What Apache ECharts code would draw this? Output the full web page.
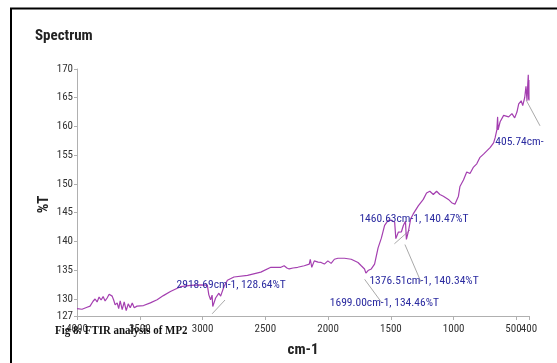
<!DOCTYPE html>
<html>
<head>
<meta charset="utf-8">
<script src="https://cdn.jsdelivr.net/npm/echarts@6/dist/echarts.min.js"></script>
<style>
html,body{margin:0;padding:0;background:#fff;}
#chart{width:557px;height:363px;}
</style>
</head>
<body>
<div id="chart"></div>
<script>
// Spectrum trace: wavenumber (cm-1) and transmittance (%T)
const wavenumbers = [4000,3960,3920,3896,3872,3856,3840,3824,3808,3792,3776,3760,3744,3736,3720,3708,3696,3680,3668,3656,3640,3624,3608,3592,3576,3560,3544,3522,3470,3416,3362,3312,3256,3176,3096,3016,2962,2950,2936,2924,2918.69,2896,2870,2856,2830,2802,2750,2642,2536,2456,2376,2350,2328,2310,2280,2242,2190,2150,2142,2130,2110,2080,2056,2030,2002,1976,1950,1922,1870,1816,1762,1736,1710,1699,1682,1668,1656,1630,1602,1576,1550,1522,1496,1470,1460.63,1440,1416,1400,1384,1376.51,1360,1342,1322,1282,1242,1216,1190,1162,1136,1110,1082,1042,1016,990,962,950,922,896,870,842,816,790,762,736,710,682,670,656,650,646,630,602,562,536,514,496,482,462,450,434,424,416,410,405.74,403,401,400];
const transmittance = [128.27,128.18,128.52,128.72,129.57,129.96,129.45,130.29,129.79,130.38,129.62,130.13,130.80,131.09,130.46,129.79,128.94,129.28,128.27,129.62,128.10,129.45,127.93,129.11,128.44,129.28,128.44,128.72,128.82,129.28,129.84,130.55,131.26,132.10,132.32,132.41,132.37,130.68,129.84,130.63,128.64,130.13,130.97,130.46,132.10,133.22,133.79,134.06,134.64,135.48,135.48,135.75,135.36,135.19,135.36,135.48,135.75,136.04,136.88,135.48,136.60,136.38,136.32,136.04,136.60,136.16,136.88,137.05,137.05,136.88,136.32,135.75,135.19,134.46,134.91,134.69,135.19,136.04,138.86,140.55,142.79,143.64,143.64,143.35,140.47,141.61,141.66,142.80,143.47,140.34,141.80,143.93,144.77,146.17,147.30,148.42,148.71,148.15,148.71,148.15,147.86,147.30,146.73,146.46,147.86,149.55,150.68,152.08,151.80,152.93,153.49,154.62,155.18,155.75,156.31,157.15,158.00,159.40,161.66,159.40,160.82,161.93,161.66,162.22,161.49,162.51,163.91,164.47,163.62,165.04,167.00,164.47,167.29,169.00,164.70,168.10,164.50];

const xTicks = [4000,3500,3000,2500,2000,1500,1000,500];
const xEndTick = [400];
const yTicks = [127,130,135,140,145,150,155,160,165,170];

// Peak annotations
const annotTexts = ['2918.69cm-1, 128.64%T','1699.00cm-1, 134.46%T','1376.51cm-1, 140.34%T','1460.63cm-1, 140.47%T','405.74cm-'];
const annotPeaks = [[2918.69,128.64],[1699.00,134.46],[1376.51,140.34],[1460.63,140.47],[405.74,164.70]];
const annotLeaderEnds = [[2816,130.97],[1560,130.46],[1248,134.01],[1336,142.8],[296,160.4]];
const annotLabelPos = [[2772,132.32],[1552,129.28],[1236,133.0],[1316,143.8],[476,157.3]];

const narrow = "'Roboto Condensed','Liberation Sans',sans-serif";
const spectrum = wavenumbers.map((w, i) => [w, transmittance[i]]);
const leaders = annotPeaks.map((p, i) => [p, annotLeaderEnds[i]]);

const chart = echarts.init(document.getElementById('chart'), null, {renderer: 'canvas'});
const hiddenAxis = {axisLine: {show: false}, axisTick: {show: false}, splitLine: {show: false}};
const tickLabel = {fontFamily: narrow, fontSize: 11, color: '#333'};
chart.setOption({
  animation: false,
  backgroundColor: '#fff',
  grid: [
    {left: 77, right: 28, top: 69, bottom: 39.5},
    // same scale, extended to the right so the last leader line can leave the plot
    {left: 77, right: 4, top: 69, bottom: 39.5}
  ],
  xAxis: [{
    type: 'value', inverse: true, min: 400, max: 4000, gridIndex: 0, position: 'bottom',
    name: 'cm-1', nameLocation: 'middle', nameGap: 27, nameMoveOverlap: false,
    nameTextStyle: {fontFamily: narrow, fontWeight: 'bold', fontSize: 15, color: '#222'},
    axisLine: {lineStyle: {color: '#b0b0b0', width: 1}},
    axisTick: {length: 4, lineStyle: {color: '#b0b0b0'}, customValues: xTicks.concat(xEndTick)},
    axisLabel: Object.assign({customValues: xTicks, margin: 8, hideOverlap: false,
      formatter: v => v === 500 ? '{r|500}' : String(v),
      rich: {r: Object.assign({padding: [0, 6, 0, 0]}, tickLabel)}}, tickLabel),
    splitLine: {show: false}
  }, Object.assign({
    type: 'value', inverse: true, min: 400, max: 4000, gridIndex: 0, position: 'bottom', offset: 0,
    axisLabel: Object.assign({customValues: xEndTick, margin: 8, showMinLabel: true,
      formatter: v => String(v)}, tickLabel)
  }, hiddenAxis), Object.assign({
    type: 'value', inverse: true, min: 192, max: 4000, gridIndex: 1, axisLabel: {show: false}
  }, hiddenAxis)],
  yAxis: [{
    type: 'value', min: 127, max: 170, gridIndex: 0,
    name: '%T', nameLocation: 'middle', nameGap: 25, nameRotate: 90, nameMoveOverlap: false,
    nameTextStyle: {fontFamily: narrow, fontWeight: 'bold', fontSize: 15, color: '#222', padding: [0, 24, 0, 0]},
    axisLine: {show: true, lineStyle: {color: '#b0b0b0', width: 1}},
    axisTick: {show: true, length: 3, lineStyle: {color: '#b0b0b0'}, customValues: yTicks},
    axisLabel: Object.assign({customValues: yTicks, margin: 4, showMinLabel: true, showMaxLabel: true}, tickLabel),
    splitLine: {show: false}
  }, Object.assign({
    type: 'value', min: 127, max: 170, gridIndex: 1, axisLabel: {show: false}
  }, hiddenAxis)],
  series: [{
    type: 'line', data: spectrum, showSymbol: false, symbol: 'none', clip: false,
    xAxisIndex: 0, yAxisIndex: 0, z: 3,
    lineStyle: {color: '#a43fb0', width: 1.2},
    markPoint: {
      silent: true, animation: false,
      data: annotLabelPos.map((p, i) => ({
        coord: p, symbol: 'circle', symbolSize: 1,
        itemStyle: {color: 'rgba(0,0,0,0)'},
        label: {show: true, position: 'inside', formatter: annotTexts[i],
          fontFamily: narrow, fontSize: 11.5, color: '#2b2ba0'}
      }))
    }
  }].concat(leaders.map(seg => ({
    type: 'line', data: seg, xAxisIndex: 2, yAxisIndex: 1, showSymbol: false, symbol: 'none',
    silent: true, z: 2, lineStyle: {color: '#aaaaaa', width: 1}
  }))),
  graphic: [
    {type: 'line', shape: {x1: 10, y1: 8.5, x2: 557, y2: 8.5}, style: {stroke: '#000', lineWidth: 2}},
    {type: 'line', shape: {x1: 11, y1: 8, x2: 11, y2: 363}, style: {stroke: '#000', lineWidth: 2}},
    {type: 'text', x: 35, y: 29, z: 100,
      style: {text: 'Spectrum', fill: '#222', font: 'bold 15px "Roboto Condensed", sans-serif'}},
    {type: 'text', x: 55, y: 324, scaleX: 0.84, z: 100,
      style: {text: 'Fig 8: FTIR analysis of MP2', fill: '#111', font: 'bold 13px "Liberation Serif", serif'}}
  ]
});
</script>
</body>
</html>
